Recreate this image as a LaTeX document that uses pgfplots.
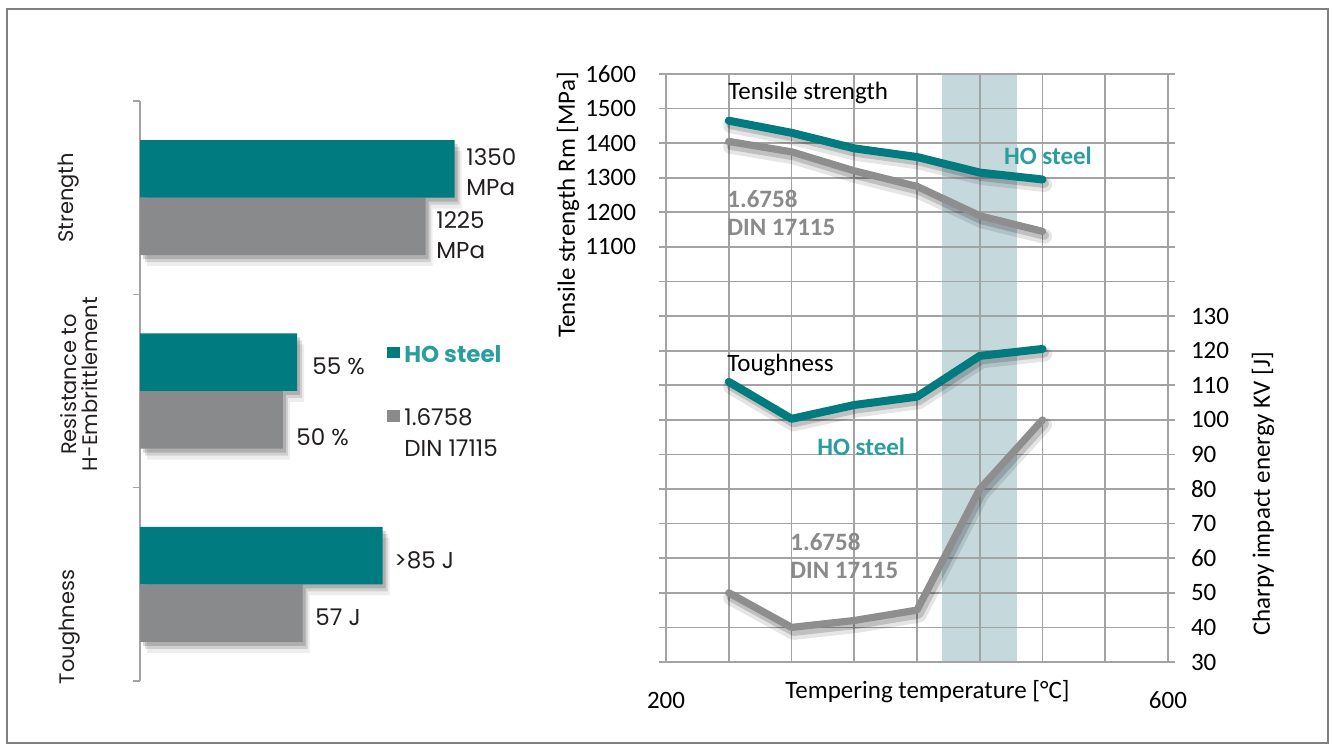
\documentclass[border=0pt]{standalone}
\usepackage{fontspec}
\setmainfont{Carlito}
\newfontfamily\gothic{Poppins}
\usepackage{pgfplots}
\pgfplotsset{compat=1.18}
\definecolor{tealbar}{HTML}{007B80}
\definecolor{teallab}{HTML}{2A9E9E}
\definecolor{barg}{HTML}{898A8C}
\definecolor{lineg}{HTML}{8E8E8E}
\definecolor{txtg}{HTML}{8A8A8A}
\definecolor{band}{HTML}{C5D9DD}
\definecolor{gridc}{HTML}{A3A3A3}
\definecolor{framec}{HTML}{808080}
\definecolor{txtd}{HTML}{231F20}

\pgfplotstableread{
cat teal gray
0 110.2 100
1 55 50
2 85 57
}\bars

\begin{document}
\begin{tikzpicture}
\path[use as bounding box] (0,0) rectangle (666.5pt,377pt);
\draw[framec, line width=0.6pt] (3.5pt,5.5pt) rectangle (664pt,372.5pt);

% ---------------- left bar chart ----------------
\begin{axis}[at={(70pt,36.5pt)}, anchor=south west, scale only axis,
  width=199.85pt, height=290pt,
  xmin=0, xmax=140, ymin=-0.5, ymax=2.5, y dir=reverse,
  axis x line=none, axis y line*=left,
  y axis line style={-, gridc, line width=0.7pt},
  ytick={-0.5,0.5,1.5,2.5}, yticklabels={},
  tick align=outside, major tick length=3.5pt,
  ytick style={gridc, line width=0.7pt},
  clip=false]
% shadows
\addplot[xbar, bar width=0.2975, bar shift=0.149, draw=none, fill=black, fill opacity=0.16, xshift=1.5pt, yshift=-2pt, forget plot] table[x=gray, y=cat] {\bars};
\addplot[xbar, bar width=0.2975, bar shift=0.149, draw=none, fill=black, fill opacity=0.12, xshift=2.5pt, yshift=-3.5pt, forget plot] table[x=gray, y=cat] {\bars};
\addplot[xbar, bar width=0.2975, bar shift=0.149, draw=none, fill=black, fill opacity=0.07, xshift=3.5pt, yshift=-5.5pt, forget plot] table[x=gray, y=cat] {\bars};
\addplot[xbar, bar width=0.2975, bar shift=-0.149, draw=none, fill=black, fill opacity=0.16, xshift=1.5pt, yshift=-2pt, forget plot] table[x=teal, y=cat] {\bars};
\addplot[xbar, bar width=0.2975, bar shift=-0.149, draw=none, fill=black, fill opacity=0.12, xshift=2.5pt, yshift=-3.5pt, forget plot] table[x=teal, y=cat] {\bars};
\addplot[xbar, bar width=0.2975, bar shift=-0.149, draw=none, fill=black, fill opacity=0.07, xshift=3.5pt, yshift=-5.5pt, forget plot] table[x=teal, y=cat] {\bars};
% bars
\addplot[xbar, bar width=0.2975, bar shift=0.149, draw=none, fill=barg] table[x=gray, y=cat] {\bars};
\addplot[xbar, bar width=0.2975, bar shift=-0.149, draw=none, fill=tealbar] table[x=teal, y=cat] {\bars};
\end{axis}

% category labels
\begin{scope}[every node/.style={font=\gothic\fontsize{10.5}{10.5}\selectfont, text=txtd}]
\node[rotate=90] at (34.5pt,278pt) {Strength};
\node[rotate=90, align=center] at (39.75pt,184.75pt) {Resistance to\\H-Embrittlement};
\node[rotate=90] at (35pt,63.5pt) {Toughness};
\end{scope}
% value labels
\begin{scope}[every node/.style={font=\gothic\fontsize{11.5}{15}\selectfont, text=txtd, inner sep=0pt, anchor=west, align=left}]
\node at (233pt,291pt) {1350\\MPa};
\node at (218pt,259.5pt) {1225\\MPa};
\node at (156pt,194pt) {55 \%};
\node at (148pt,158.5pt) {50 \%};
\node at (197pt,97pt) {>85 J};
\node at (157.5pt,68.5pt) {57 J};
\end{scope}
% legend
\fill[tealbar] (193.5pt,198pt) rectangle (200pt,203.5pt);
\node[font=\gothic\bfseries\fontsize{11.5}{15.5}\selectfont, text=teallab, anchor=west, inner sep=0pt] at (202pt,200pt) {HO steel};
\fill[barg] (193.5pt,166pt) rectangle (200pt,172pt);
\node[font=\gothic\fontsize{11.5}{15.5}\selectfont, text=txtd, anchor=west, align=left, inner sep=0pt] at (202pt,160.5pt) {1.6758\\DIN 17115};

% ---------------- right line chart ----------------
% tempering band (drawn first so that the grid lies over it)
\begin{axis}[at={(333pt,46pt)}, anchor=south west, scale only axis,
  width=251pt, height=294pt, hide axis,
  xmin=200, xmax=600, ymin=0, ymax=1]
\addplot[draw=none, fill=band] coordinates {(420,0) (420,1) (480,1) (480,0)} -- cycle;
\end{axis}

\begin{axis}[at={(333pt,46pt)}, anchor=south west, scale only axis,
  width=251pt, height=294pt,
  xmin=200, xmax=600, ymin=-100, ymax=1600,
  xtick={200,250,...,600}, xticklabels={200,,,,,,,,600},
  ytick={-100,0,...,1600},
  yticklabels={,,,,,,,,,,,,1100,1200,1300,1400,1500,1600},
  yticklabel pos=left,
  grid=major, grid style={gridc, line width=0.85pt},
  axis line style={gridc, line width=0.85pt},
  tick align=outside, major tick length=3.5pt,
  ytick style={gridc, line width=0.85pt}, xtick style={draw=none},
  /pgf/number format/assume math mode=true,
  tick label style={font=\fontsize{12.5}{15}\selectfont, text=black},
  xticklabel style={anchor=base, yshift=-20pt},
  yticklabel style={xshift=-8pt},
  clip=false]
% 1.6758 tensile
\addplot[black, opacity=0.10, line width=7.5pt, line cap=round, line join=round, xshift=1pt, yshift=-2.5pt] coordinates {(250,1405) (300,1375) (350,1320) (400,1275) (450,1190) (500,1145)};
\addplot[black, opacity=0.16, line width=4.5pt, line cap=round, line join=round, xshift=1pt, yshift=-2pt] coordinates {(250,1405) (300,1375) (350,1320) (400,1275) (450,1190) (500,1145)};
\addplot[lineg, line width=3.6pt, line cap=round, line join=round] coordinates {(250,1405) (300,1375) (350,1320) (400,1275) (450,1190) (500,1145)};
% HO tensile
\addplot[black, opacity=0.10, line width=7.5pt, line cap=round, line join=round, xshift=1pt, yshift=-2.5pt] coordinates {(250,1465) (300,1430) (350,1385) (400,1360) (450,1315) (500,1295)};
\addplot[black, opacity=0.16, line width=4.5pt, line cap=round, line join=round, xshift=1pt, yshift=-2pt] coordinates {(250,1465) (300,1430) (350,1385) (400,1360) (450,1315) (500,1295)};
\addplot[tealbar, line width=4pt, line cap=round, line join=round] coordinates {(250,1465) (300,1430) (350,1385) (400,1360) (450,1315) (500,1295)};
\end{axis}

\begin{axis}[at={(333pt,46pt)}, anchor=south west, scale only axis,
  width=251pt, height=294pt,
  xmin=200, xmax=600, ymin=30, ymax=200,
  axis x line=none, axis y line*=right, y axis line style={draw=none},
  ytick={30,40,...,130}, major tick length=0pt,
  /pgf/number format/assume math mode=true,
  tick label style={font=\fontsize{12.5}{15}\selectfont, text=black},
  yticklabel style={xshift=8pt},
  clip=false]
% 1.6758 toughness
\addplot[black, opacity=0.10, line width=7.5pt, line cap=round, line join=round, xshift=1pt, yshift=-2.5pt] coordinates {(250,50) (300,40) (350,42) (400,45) (450,80) (500,100)};
\addplot[black, opacity=0.16, line width=4.5pt, line cap=round, line join=round, xshift=1pt, yshift=-2pt] coordinates {(250,50) (300,40) (350,42) (400,45) (450,80) (500,100)};
\addplot[lineg, line width=3.6pt, line cap=round, line join=round] coordinates {(250,50) (300,40) (350,42) (400,45) (450,80) (500,100)};
% HO toughness
\addplot[black, opacity=0.10, line width=7.5pt, line cap=round, line join=round, xshift=1pt, yshift=-2.5pt] coordinates {(250,111) (300,100.3) (350,104.3) (400,106.7) (450,118.5) (500,120.5)};
\addplot[black, opacity=0.16, line width=4.5pt, line cap=round, line join=round, xshift=1pt, yshift=-2pt] coordinates {(250,111) (300,100.3) (350,104.3) (400,106.7) (450,118.5) (500,120.5)};
\addplot[tealbar, line width=4pt, line cap=round, line join=round] coordinates {(250,111) (300,100.3) (350,104.3) (400,106.7) (450,118.5) (500,120.5)};
\end{axis}

% right chart texts
\begin{scope}[every node/.style={font=\fontsize{12.5}{14}\selectfont}]
\node[rotate=90] at (284pt,274.5pt) {Tensile strength Rm [MPa]};
\node[rotate=90] at (631.5pt,130pt) {Charpy impact energy KV [J]};
\node[anchor=base] at (463.75pt,27.5pt) {Tempering temperature [°C]};
\node[anchor=west, inner sep=0pt] at (364pt,330.5pt) {Tensile strength};
\node[anchor=west, inner sep=0pt] at (363.5pt,194.5pt) {Toughness};
\node[text=teallab, font=\bfseries\fontsize{12.5}{14}\selectfont, inner sep=0pt] at (524pt,299pt) {HO steel};
\node[text=teallab, font=\bfseries\fontsize{12.5}{14}\selectfont, anchor=west, inner sep=0pt] at (408.5pt,153.5pt) {HO steel};
\node[text=txtg, font=\bfseries\fontsize{12.5}{14}\selectfont, anchor=west, align=left, inner sep=0pt] at (363.5pt,270.5pt) {1.6758\\DIN 17115};
\node[text=txtg, font=\bfseries\fontsize{12.5}{14}\selectfont, anchor=west, align=left, inner sep=0pt] at (395pt,99pt) {1.6758\\DIN 17115};
\end{scope}
\end{tikzpicture}
\end{document}
